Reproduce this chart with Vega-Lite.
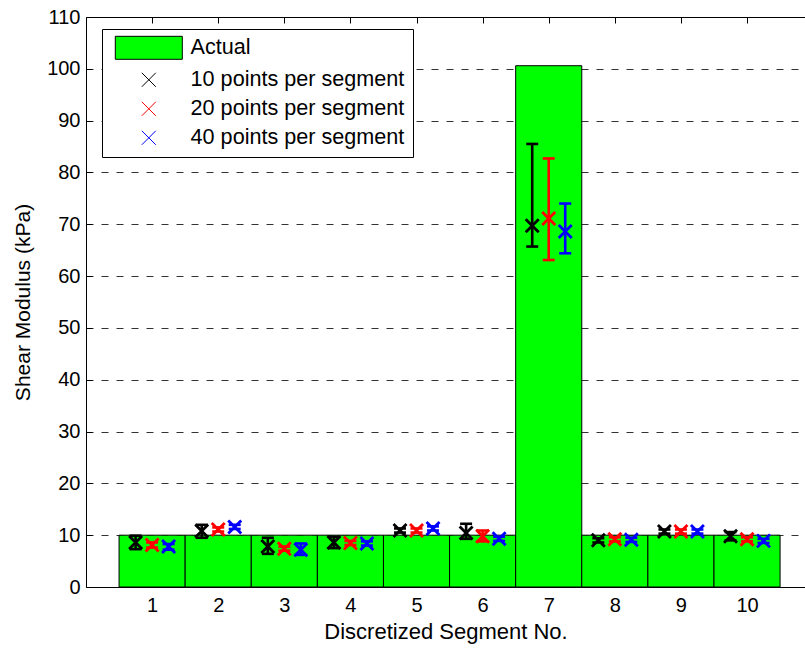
{
  "$schema": "https://vega.github.io/schema/vega-lite/v6.json",
  "width": 719,
  "height": 570,
  "autosize": {"type": "none"},
  "padding": {"left": 86, "top": 17, "right": 0, "bottom": 61},
  "background": "white",
  "config": {
    "view": {"stroke": null},
    "font": "Liberation Sans",
    "scale": {"continuousPadding": 0},
    "axis": {
      "labelFont": "Liberation Sans",
      "titleFont": "Liberation Sans",
      "labelColor": "black",
      "titleColor": "black",
      "domainColor": "black",
      "tickColor": "black",
      "titleFontWeight": "normal"
    }
  },
  "datasets": {
    "actual": [
      {"segment": 1, "value": 10, "series": "Actual"},
      {"segment": 2, "value": 10, "series": "Actual"},
      {"segment": 3, "value": 10, "series": "Actual"},
      {"segment": 4, "value": 10, "series": "Actual"},
      {"segment": 5, "value": 10, "series": "Actual"},
      {"segment": 6, "value": 10, "series": "Actual"},
      {"segment": 7, "value": 100.6, "series": "Actual"},
      {"segment": 8, "value": 10, "series": "Actual"},
      {"segment": 9, "value": 10, "series": "Actual"},
      {"segment": 10, "value": 10, "series": "Actual"}
    ],
    "est": [
      {"segment": 1, "series": "10 points per segment", "mean": 8.6, "lo": 7.3, "hi": 9.9},
      {"segment": 2, "series": "10 points per segment", "mean": 10.8, "lo": 9.5, "hi": 12.0},
      {"segment": 3, "series": "10 points per segment", "mean": 7.8, "lo": 6.4, "hi": 9.5},
      {"segment": 4, "series": "10 points per segment", "mean": 8.6, "lo": 7.5, "hi": 9.7},
      {"segment": 5, "series": "10 points per segment", "mean": 10.9, "lo": 10.5, "hi": 11.3},
      {"segment": 6, "series": "10 points per segment", "mean": 10.4, "lo": 9.3, "hi": 12.2},
      {"segment": 7, "series": "10 points per segment", "mean": 69.7, "lo": 65.7, "hi": 85.5},
      {"segment": 8, "series": "10 points per segment", "mean": 9.0, "lo": 8.6, "hi": 9.4},
      {"segment": 9, "series": "10 points per segment", "mean": 10.7, "lo": 10.3, "hi": 11.1},
      {"segment": 10, "series": "10 points per segment", "mean": 9.8, "lo": 9.0, "hi": 10.6},
      {"segment": 1, "series": "20 points per segment", "mean": 8.1, "lo": 7.6, "hi": 8.6},
      {"segment": 2, "series": "20 points per segment", "mean": 11.1, "lo": 10.7, "hi": 11.5},
      {"segment": 3, "series": "20 points per segment", "mean": 7.4, "lo": 7.0, "hi": 7.8},
      {"segment": 4, "series": "20 points per segment", "mean": 8.5, "lo": 8.1, "hi": 8.9},
      {"segment": 5, "series": "20 points per segment", "mean": 10.9, "lo": 10.5, "hi": 11.3},
      {"segment": 6, "series": "20 points per segment", "mean": 9.8, "lo": 8.8, "hi": 10.9},
      {"segment": 7, "series": "20 points per segment", "mean": 71.1, "lo": 63.1, "hi": 82.7},
      {"segment": 8, "series": "20 points per segment", "mean": 9.2, "lo": 8.8, "hi": 9.6},
      {"segment": 9, "series": "20 points per segment", "mean": 10.7, "lo": 10.3, "hi": 11.1},
      {"segment": 10, "series": "20 points per segment", "mean": 9.2, "lo": 8.8, "hi": 9.6},
      {"segment": 1, "series": "40 points per segment", "mean": 7.8, "lo": 7.2, "hi": 8.3},
      {"segment": 2, "series": "40 points per segment", "mean": 11.6, "lo": 11.2, "hi": 12.0},
      {"segment": 3, "series": "40 points per segment", "mean": 7.2, "lo": 6.2, "hi": 8.4},
      {"segment": 4, "series": "40 points per segment", "mean": 8.4, "lo": 8.0, "hi": 8.8},
      {"segment": 5, "series": "40 points per segment", "mean": 11.3, "lo": 10.9, "hi": 11.7},
      {"segment": 6, "series": "40 points per segment", "mean": 9.3, "lo": 8.9, "hi": 9.7},
      {"segment": 7, "series": "40 points per segment", "mean": 68.6, "lo": 64.4, "hi": 74.0},
      {"segment": 8, "series": "40 points per segment", "mean": 9.1, "lo": 8.7, "hi": 9.5},
      {"segment": 9, "series": "40 points per segment", "mean": 10.7, "lo": 10.3, "hi": 11.1},
      {"segment": 10, "series": "40 points per segment", "mean": 8.9, "lo": 8.5, "hi": 9.3}
    ]
  },
  "layer": [
    {
      "data": {"name": "actual"},
      "mark": {"type": "bar", "width": 66.1, "fill": "#00ff00", "stroke": "black", "strokeWidth": 1, "opacity": 1},
      "encoding": {
        "x": {
          "field": "segment", "type": "quantitative",
          "scale": {"domain": [0, 10.877], "nice": false, "zero": false, "padding": 0},
          "axis": {
            "orient": "bottom", "values": [1, 2, 3, 4, 5, 6, 7, 8, 9, 10], "grid": false,
            "tickSize": -6, "labelPadding": 14, "labelFontSize": 20,
            "title": "Discretized Segment No.", "titleFontSize": 22, "titlePadding": 6
          }
        },
        "y": {
          "field": "value", "type": "quantitative",
          "scale": {"domain": [0, 110], "nice": false, "padding": 0},
          "title": "Shear Modulus (kPa)",
          "axis": {
            "values": [0, 10, 20, 30, 40, 50, 60, 70, 80, 90, 100, 110],
            "grid": true, "gridDash": [7, 8], "gridColor": "#333333", "gridWidth": 1,
            "tickSize": -6, "labelPadding": 12, "labelFontSize": 20,
            "titleFontSize": 21, "titlePadding": 13
          }
        }
      }
    },
    {
      "data": {"name": "actual"},
      "mark": {"type": "rule", "opacity": 0},
      "encoding": {
        "x": {
          "field": "segment", "type": "quantitative",
          "scale": {"domain": [0, 10.877], "nice": false, "zero": false, "padding": 0},
          "axis": {"orient": "top", "values": [1, 2, 3, 4, 5, 6, 7, 8, 9, 10], "grid": false, "labels": false, "title": null, "tickSize": -6}
        }
      }
    },
    {
      "data": {"name": "est"},
      "transform": [{"filter": "datum.series === '10 points per segment'"}],
      "layer": [
        {
          "mark": {"type": "rule", "color": "#000000", "strokeWidth": 2.6, "xOffset": -16.5},
          "encoding": {
            "x": {"field": "segment", "type": "quantitative", "scale": {"domain": [0, 10.877], "nice": false, "zero": false, "padding": 0}, "axis": null},
            "y": {"field": "lo", "type": "quantitative", "scale": {"domain": [0, 110], "nice": false, "padding": 0}, "title": "Shear Modulus (kPa)"},
            "y2": {"field": "hi"}
          }
        },
        {
          "mark": {"type": "tick", "orient": "horizontal", "size": 12, "thickness": 2.6, "color": "#000000", "opacity": 1, "xOffset": -16.5},
          "encoding": {
            "x": {"field": "segment", "type": "quantitative", "scale": {"domain": [0, 10.877], "nice": false, "zero": false, "padding": 0}, "axis": null},
            "y": {"field": "lo", "type": "quantitative", "scale": {"domain": [0, 110], "nice": false, "padding": 0}, "title": "Shear Modulus (kPa)"}
          }
        },
        {
          "mark": {"type": "tick", "orient": "horizontal", "size": 12, "thickness": 2.6, "color": "#000000", "opacity": 1, "xOffset": -16.5},
          "encoding": {
            "x": {"field": "segment", "type": "quantitative", "scale": {"domain": [0, 10.877], "nice": false, "zero": false, "padding": 0}, "axis": null},
            "y": {"field": "hi", "type": "quantitative", "scale": {"domain": [0, 110], "nice": false, "padding": 0}, "title": "Shear Modulus (kPa)"}
          }
        },
        {
          "mark": {"type": "point", "shape": "M-1,-1L1,1M-1,1L1,-1", "size": 169, "filled": false, "stroke": "#000000", "strokeWidth": 2.8, "opacity": 1, "xOffset": -16.5},
          "encoding": {
            "x": {"field": "segment", "type": "quantitative", "scale": {"domain": [0, 10.877], "nice": false, "zero": false, "padding": 0}, "axis": null},
            "y": {"field": "mean", "type": "quantitative", "scale": {"domain": [0, 110], "nice": false, "padding": 0}, "title": "Shear Modulus (kPa)"}
          }
        }
      ]
    },
    {
      "data": {"name": "est"},
      "transform": [{"filter": "datum.series === '20 points per segment'"}],
      "layer": [
        {
          "mark": {"type": "rule", "color": "#ff0000", "strokeWidth": 2.6, "xOffset": 0},
          "encoding": {
            "x": {"field": "segment", "type": "quantitative", "scale": {"domain": [0, 10.877], "nice": false, "zero": false, "padding": 0}, "axis": null},
            "y": {"field": "lo", "type": "quantitative", "scale": {"domain": [0, 110], "nice": false, "padding": 0}, "title": "Shear Modulus (kPa)"},
            "y2": {"field": "hi"}
          }
        },
        {
          "mark": {"type": "tick", "orient": "horizontal", "size": 12, "thickness": 2.6, "color": "#ff0000", "opacity": 1, "xOffset": 0},
          "encoding": {
            "x": {"field": "segment", "type": "quantitative", "scale": {"domain": [0, 10.877], "nice": false, "zero": false, "padding": 0}, "axis": null},
            "y": {"field": "lo", "type": "quantitative", "scale": {"domain": [0, 110], "nice": false, "padding": 0}, "title": "Shear Modulus (kPa)"}
          }
        },
        {
          "mark": {"type": "tick", "orient": "horizontal", "size": 12, "thickness": 2.6, "color": "#ff0000", "opacity": 1, "xOffset": 0},
          "encoding": {
            "x": {"field": "segment", "type": "quantitative", "scale": {"domain": [0, 10.877], "nice": false, "zero": false, "padding": 0}, "axis": null},
            "y": {"field": "hi", "type": "quantitative", "scale": {"domain": [0, 110], "nice": false, "padding": 0}, "title": "Shear Modulus (kPa)"}
          }
        },
        {
          "mark": {"type": "point", "shape": "M-1,-1L1,1M-1,1L1,-1", "size": 169, "filled": false, "stroke": "#ff0000", "strokeWidth": 2.8, "opacity": 1, "xOffset": 0},
          "encoding": {
            "x": {"field": "segment", "type": "quantitative", "scale": {"domain": [0, 10.877], "nice": false, "zero": false, "padding": 0}, "axis": null},
            "y": {"field": "mean", "type": "quantitative", "scale": {"domain": [0, 110], "nice": false, "padding": 0}, "title": "Shear Modulus (kPa)"}
          }
        }
      ]
    },
    {
      "data": {"name": "est"},
      "transform": [{"filter": "datum.series === '40 points per segment'"}],
      "layer": [
        {
          "mark": {"type": "rule", "color": "#0000ff", "strokeWidth": 2.6, "xOffset": 16.5},
          "encoding": {
            "x": {"field": "segment", "type": "quantitative", "scale": {"domain": [0, 10.877], "nice": false, "zero": false, "padding": 0}, "axis": null},
            "y": {"field": "lo", "type": "quantitative", "scale": {"domain": [0, 110], "nice": false, "padding": 0}, "title": "Shear Modulus (kPa)"},
            "y2": {"field": "hi"}
          }
        },
        {
          "mark": {"type": "tick", "orient": "horizontal", "size": 12, "thickness": 2.6, "color": "#0000ff", "opacity": 1, "xOffset": 16.5},
          "encoding": {
            "x": {"field": "segment", "type": "quantitative", "scale": {"domain": [0, 10.877], "nice": false, "zero": false, "padding": 0}, "axis": null},
            "y": {"field": "lo", "type": "quantitative", "scale": {"domain": [0, 110], "nice": false, "padding": 0}, "title": "Shear Modulus (kPa)"}
          }
        },
        {
          "mark": {"type": "tick", "orient": "horizontal", "size": 12, "thickness": 2.6, "color": "#0000ff", "opacity": 1, "xOffset": 16.5},
          "encoding": {
            "x": {"field": "segment", "type": "quantitative", "scale": {"domain": [0, 10.877], "nice": false, "zero": false, "padding": 0}, "axis": null},
            "y": {"field": "hi", "type": "quantitative", "scale": {"domain": [0, 110], "nice": false, "padding": 0}, "title": "Shear Modulus (kPa)"}
          }
        },
        {
          "mark": {"type": "point", "shape": "M-1,-1L1,1M-1,1L1,-1", "size": 169, "filled": false, "stroke": "#0000ff", "strokeWidth": 2.8, "opacity": 1, "xOffset": 16.5},
          "encoding": {
            "x": {"field": "segment", "type": "quantitative", "scale": {"domain": [0, 10.877], "nice": false, "zero": false, "padding": 0}, "axis": null},
            "y": {"field": "mean", "type": "quantitative", "scale": {"domain": [0, 110], "nice": false, "padding": 0}, "title": "Shear Modulus (kPa)"}
          }
        }
      ]
    },
    {
      "data": {"name": "est"},
      "mark": {"type": "point", "filled": true, "opacity": 0, "strokeWidth": 1},
      "encoding": {
        "shape": {
          "field": "series", "type": "nominal",
          "scale": {
            "domain": ["Actual", "10 points per segment", "20 points per segment", "40 points per segment"],
            "range": ["M-3.35,-1.15H3.35V1.15H-3.35Z", "M-0.7,-0.7L0.7,0.7M-0.7,0.7L0.7,-0.7", "M-0.7,-0.7L0.7,0.7M-0.7,0.7L0.7,-0.7", "M-0.7,-0.7L0.7,0.7M-0.7,0.7L0.7,-0.7"]
          },
          "legend": {
            "orient": "none", "legendX": 16, "legendY": 12, "title": null,
            "padding": 8, "strokeColor": "black", "fillColor": "white",
            "labelFont": "Liberation Sans", "labelFontSize": 21.6, "labelColor": "black", "labelLimit": 500,
            "symbolSize": 400, "symbolOffset": 28, "labelOffset": 31, "rowPadding": 6,
            "symbolStrokeWidth": 1, "symbolOpacity": 1
          }
        },
        "fill": {
          "field": "series", "type": "nominal",
          "scale": {
            "domain": ["Actual", "10 points per segment", "20 points per segment", "40 points per segment"],
            "range": ["#00ff00", "transparent", "transparent", "transparent"]
          },
          "legend": {"title": null}
        },
        "stroke": {
          "field": "series", "type": "nominal",
          "scale": {
            "domain": ["Actual", "10 points per segment", "20 points per segment", "40 points per segment"],
            "range": ["#000000", "#000000", "#ff0000", "#0000ff"]
          },
          "legend": {"title": null}
        }
      }
    }
  ],
  "resolve": {"axis": {"x": "independent"}}
}
